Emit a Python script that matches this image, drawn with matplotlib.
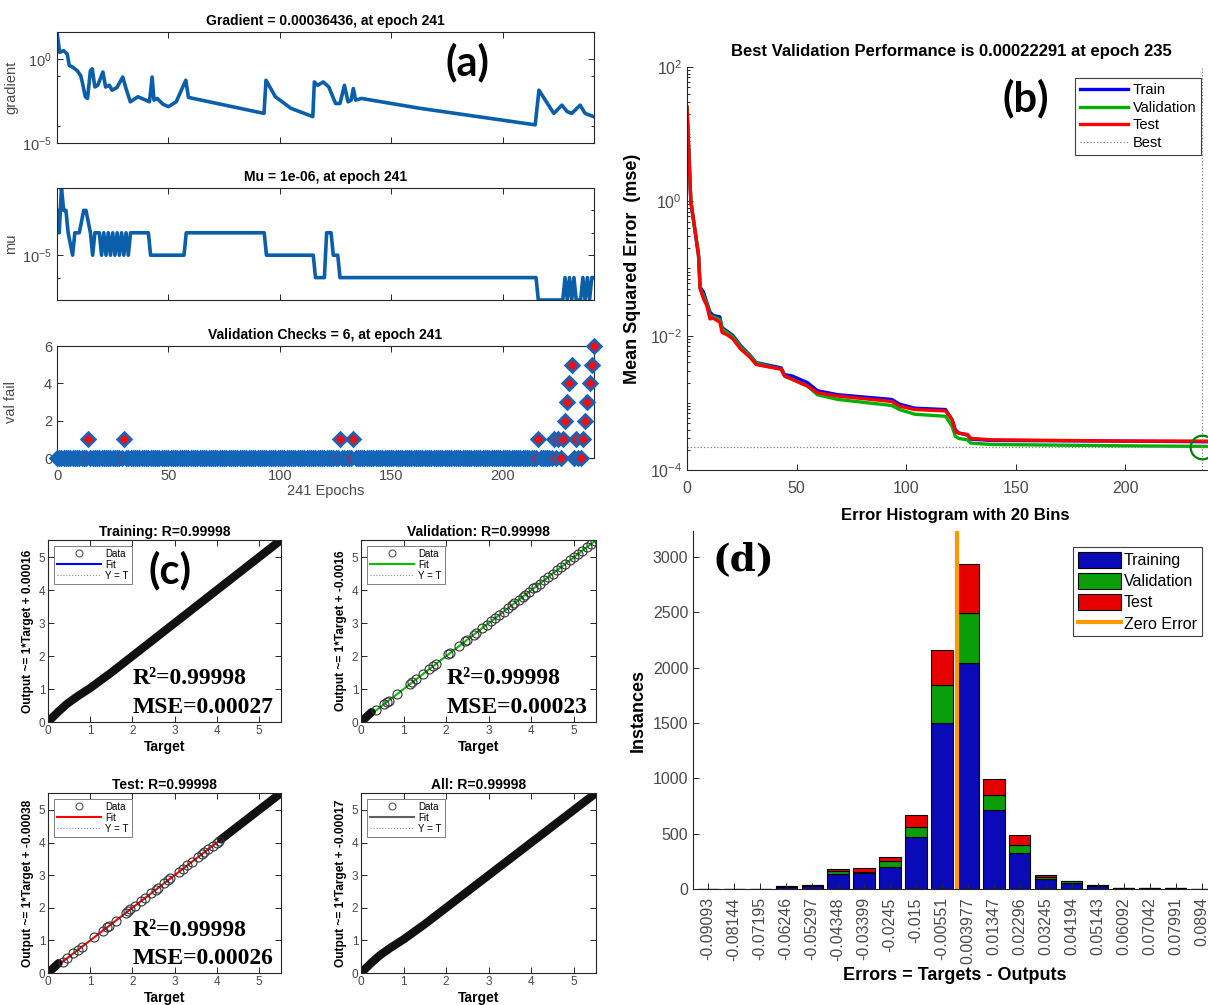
import numpy as np
import matplotlib
matplotlib.use("Agg")
import matplotlib.pyplot as plt
from matplotlib.lines import Line2D
from matplotlib.patches import Patch
from matplotlib.ticker import FixedLocator, NullFormatter

plt.rcParams["font.family"] = ["Liberation Sans", "DejaVu Sans"]
plt.rcParams["mathtext.fontset"] = "custom"
plt.rcParams["mathtext.rm"] = "Liberation Sans"
plt.rcParams["mathtext.it"] = "Liberation Sans:italic"
plt.rcParams["mathtext.bf"] = "Liberation Sans:bold"

W, H = 1208, 1005

# ─── (a) training state ─────────────────────────────────────────────────────
N_EPOCHS = 241

GRAD_EPOCH = [0, 1.2, 3, 4.6, 5.5, 7, 9, 10.6, 11.5, 12.7, 13.7, 15, 15.8, 17, 18.3,
              20.6, 21.8, 23.5, 24.7, 26.9, 29.5, 31.2, 32.9, 36.3, 39.8, 41.5, 42.7,
              43.5, 45, 47.5, 50, 53.5, 57.8, 59, 92.9, 93.8, 98, 105, 114.8, 115.5,
              117, 119.5, 122, 125, 127, 129, 130.6, 132, 133, 134, 136.6, 163, 214.6,
              216.3, 221.5, 223, 226.6, 229, 231, 234.8, 237, 241]
GRAD_LOG = [1.6, 0.39, 0.49, 0.29, -0.39, -0.49, -0.69, -0.98, -1.47, -2.25, -2.35,
            -0.69, -0.59, -1.67, -1.57, -0.78, -1.67, -1.57, -1.86, -1.7, -1.08, -1.86,
            -2.55, -2.25, -2.45, -2.55, -1.08, -2.45, -2.35, -2.69, -2.84, -2.55, -1.27,
            -2.29, -3.24, -1.27, -2.25, -2.94, -3.43, -1.37, -1.57, -1.37, -1.67, -2.65,
            -2.65, -1.57, -2.55, -2.45, -1.76, -2.45, -2.35, -2.94, -3.92, -1.86, -2.94,
            -3.24, -2.75, -3.14, -3.24, -2.75, -3.24, -3.44]

MU_EPOCH = [0, 1, 2, 3, 4, 5, 7, 8, 10, 12, 13, 15, 16, 17, 19, 20, 21, 22, 23, 24,
            25, 26, 27, 28, 29, 30, 31, 32, 33, 41, 42, 57, 58, 93, 94, 115, 116, 120,
            121, 123, 124, 126, 127, 215, 216, 227, 228, 229, 230, 231, 232, 233, 235,
            236, 237, 238, 239, 240, 241]
MU_LOG = [-3, -4, -2, -3, -3, -4, -5, -4, -4, -3, -3, -4, -5, -4, -4, -5, -4, -5, -4,
          -5, -4, -5, -4, -5, -4, -5, -4, -5, -4, -4, -5, -5, -4, -4, -5, -5, -6, -6,
          -4, -4, -5, -5, -6, -6, -7, -7, -6, -7, -6, -7, -6, -7, -7, -6, -7, -6, -7,
          -6, -6]

VALFAIL_NONZERO = {14: 1, 30: 1, 127: 1, 133: 1, 216: 1, 223: 1, 225: 1, 227: 1,
                   228: 2, 229: 3, 230: 4, 231: 5, 233: 1, 236: 1, 237: 2, 238: 3,
                   239: 4, 240: 5, 241: 6}

# ─── (b) performance ────────────────────────────────────────────────────────
PERF_EPOCH = [0, 1.75, 3.5, 5.25, 6, 7.5, 9, 10.5, 12, 15, 16, 19, 21, 24.5, 29, 31.5,
              43, 44.5, 48, 55, 59.5, 69, 93.5, 97, 104, 118, 121, 122.5, 124, 128,
              129.5, 139, 200, 241]
TRAIN_LOG = [1.4, 0, -0.4, -0.8, -1.28, -1.35, -1.5, -1.65, -1.7, -1.72, -1.88, -1.95,
             -2.0, -2.15, -2.3, -2.4, -2.48, -2.58, -2.6, -2.7, -2.82, -2.88, -2.95,
             -3.02, -3.08, -3.1, -3.25, -3.4, -3.45, -3.48, -3.54, -3.56, -3.57, -3.58]
VAL_LOG = [1.4, 0, -0.4, -0.8, -1.3, -1.4, -1.52, -1.7, -1.72, -1.76, -1.9, -1.97,
           -2.02, -2.17, -2.31, -2.41, -2.5, -2.6, -2.65, -2.75, -2.88, -2.95, -3.04,
           -3.1, -3.17, -3.2, -3.35, -3.5, -3.53, -3.55, -3.6, -3.62, -3.64, -3.65]
TEST_LOG = [1.4, 0, -0.4, -0.8, -1.3, -1.45, -1.55, -1.75, -1.74, -1.8, -1.95, -2.0,
            -2.05, -2.2, -2.33, -2.43, -2.5, -2.6, -2.65, -2.75, -2.85, -2.9, -2.98,
            -3.05, -3.1, -3.12, -3.25, -3.43, -3.45, -3.47, -3.53, -3.55, -3.57, -3.57]
BEST_EPOCH = 235
BEST_PERF = 0.00022291

# ─── (c) regression ─────────────────────────────────────────────────────────
REG_TITLES = ["Training: R=0.99998", "Validation: R=0.99998",
              "Test: R=0.99998", "All: R=0.99998"]
REG_YLABELS = ["Output ~= 1*Target + 0.00016", "Output ~= 1*Target + -0.0016",
               "Output ~= 1*Target + -0.00038", "Output ~= 1*Target + -0.00017"]
FIT_INTERCEPT = [0.00016, -0.0016, -0.00038, -0.00017]
FIT_COLORS = ["#0000FF", "#00C000", "#FF0000", "#606060"]
REG_R2 = ["R²=0.99998", "R²=0.99998", "R²=0.99998", None]
REG_MSE = ["MSE=0.00027", "MSE=0.00023", "MSE=0.00026", None]

# dense (band-like) parts of the data clouds: target / output
TRAIN_BAND_T = [0.0, 0.1, 0.25, 0.45, 0.7, 1.0, 1.5, 2.0, 2.5, 3.0, 3.5, 4.0, 4.5, 5.0, 5.52]
TRAIN_BAND_O = [0.0, 0.13, 0.32, 0.55, 0.78, 1.03, 1.5, 2.0, 2.5, 3.0, 3.5, 4.0, 4.5, 5.0, 5.52]
VAL_BAND_T = [0.0, 0.1, 0.25]
VAL_BAND_O = [0.0, 0.12, 0.3]
TEST_BAND_T = [0.0, 0.1, 0.25]
TEST_BAND_O = [0.0, 0.12, 0.3]
TEST_BAND2_T = [4.1, 4.6, 5.0, 5.52]
TEST_BAND2_O = [4.1, 4.6, 5.0, 5.52]
# sparse, individually visible circles (outputs sit on Y = T)
VAL_PTS = [0.35, 0.55, 0.6, 0.65, 0.85, 1.15, 1.2, 1.3, 1.45, 1.6, 1.7, 1.75, 2.05,
           2.1, 2.3, 2.45, 2.5, 2.65, 2.7, 2.85, 2.95, 3.05, 3.15, 3.25, 3.35, 3.45,
           3.55, 3.6, 3.7, 3.8, 3.85, 3.95, 4.05, 4.1, 4.2, 4.3, 4.4, 4.5, 4.6, 4.7,
           4.8, 4.9, 5.0, 5.1, 5.2, 5.3, 5.4, 5.5]
TEST_PTS = [0.35, 0.45, 0.6, 0.7, 0.8, 1.1, 1.3, 1.4, 1.45, 1.6, 1.85, 1.9, 1.95, 2.05,
            2.2, 2.3, 2.45, 2.55, 2.6, 2.75, 2.85, 2.9, 3.1, 3.2, 3.3, 3.4, 3.55, 3.65,
            3.7, 3.8, 3.9, 4.0, 4.05]
REG_MAX = 5.52

# ─── (d) error histogram ────────────────────────────────────────────────────
BIN_LABELS = ["-0.09093", "-0.08144", "-0.07195", "-0.06246", "-0.05297", "-0.04348",
              "-0.03399", "-0.0245", "-0.015", "-0.00551", "0.003977", "0.01347",
              "0.02296", "0.03245", "0.04194", "0.05143", "0.06092", "0.07042",
              "0.07991", "0.0894"]
BIN_CENTERS = [float(s) for s in BIN_LABELS]
HIST_TRAIN = [0, 0, 0, 20, 28, 136, 142, 201, 467, 1502, 2040, 714, 329, 93, 51, 31, 6, 6, 5, 0]
HIST_VAL = [0, 0, 0, 4, 5, 23, 14, 48, 94, 339, 456, 136, 70, 15, 20, 3, 1, 1, 1, 0]
HIST_TEST = [0, 0, 0, 4, 4, 19, 37, 43, 108, 318, 445, 142, 85, 14, 3, 3, 1, 1, 0, 0]

# ─── Styling helpers ────────────────────────────────────────────────────────
AX_COLOR = "#262626"
TICK_COLOR = "#4a4a4a"
LINE_BLUE = "#0B5FAA"


def rect(l, t, r, b):
    """Axes rectangle from pixel edges (left, top, right, bottom)."""
    return [l / W, 1 - b / H, (r - l) / W, (b - t) / H]


def matlab_style(ax, box=True, size=10):
    for name, s in ax.spines.items():
        s.set_color(AX_COLOR)
        s.set_linewidth(0.8)
        if not box and name in ("top", "right"):
            s.set_visible(False)
    ax.tick_params(which="both", direction="in", top=box, right=box,
                   color=AX_COLOR, labelcolor=TICK_COLOR, labelsize=size, width=0.7)
    ax.tick_params(which="major", length=4)
    ax.tick_params(which="minor", length=2.5)


fig = plt.figure(figsize=(W / 100, H / 100), dpi=100)

# ─── (a) ────────────────────────────────────────────────────────────────────
A_LEFT, A_RIGHT = 57, 594
ylab_x = (18 - A_LEFT) / (A_RIGHT - A_LEFT)

ax_g = fig.add_axes(rect(A_LEFT, 32, A_RIGHT, 143))
ax_g.semilogy(GRAD_EPOCH, 10 ** np.array(GRAD_LOG), color=LINE_BLUE, lw=2.6)
ax_g.set_xlim(0, N_EPOCHS)
ax_g.set_ylim(1e-5, 10 ** 1.6)
ax_g.set_yticks([1e-5, 1e0])
ax_g.set_yticklabels([r"$10^{-5}$", r"$10^{0}$"])
ax_g.yaxis.set_minor_locator(FixedLocator([1e-4, 1e-1]))
ax_g.yaxis.set_minor_formatter(NullFormatter())
ax_g.set_xticks([0, 50, 100, 150, 200])
ax_g.set_xticklabels([])
ax_g.set_ylabel("gradient", fontsize=10.5, color=TICK_COLOR)
ax_g.yaxis.set_label_coords(ylab_x, 0.5)
ax_g.set_title("Gradient = 0.00036436, at epoch 241", fontsize=10, fontweight="bold", pad=5)
matlab_style(ax_g, size=10.5)

ax_m = fig.add_axes(rect(A_LEFT, 188, A_RIGHT, 300))
ax_m.semilogy(MU_EPOCH, 10.0 ** np.array(MU_LOG), color=LINE_BLUE, lw=2.6)
ax_m.set_xlim(0, N_EPOCHS)
ax_m.set_ylim(1e-7, 1e-2)
ax_m.set_yticks([1e-5])
ax_m.set_yticklabels([r"$10^{-5}$"])
ax_m.yaxis.set_minor_locator(FixedLocator([1e-6, 1e-4, 1e-3]))
ax_m.yaxis.set_minor_formatter(NullFormatter())
ax_m.set_xticks([0, 50, 100, 150, 200])
ax_m.set_xticklabels([])
ax_m.set_ylabel("mu", fontsize=10.5, color=TICK_COLOR)
ax_m.yaxis.set_label_coords(ylab_x, 0.5)
ax_m.set_title("Mu = 1e-06, at epoch 241", fontsize=10, fontweight="bold", pad=5)
matlab_style(ax_m, size=10.5)

val_epochs = np.arange(N_EPOCHS + 1)
val_fail = np.zeros(N_EPOCHS + 1)
for ep, v in VALFAIL_NONZERO.items():
    val_fail[ep] = v

ax_v = fig.add_axes(rect(A_LEFT, 346, A_RIGHT, 458))
ax_v.plot(val_epochs, val_fail, ls="none", marker="D", ms=7.5,
          mfc="#E8101A", mec="#1466B8", mew=1.8, clip_on=False, zorder=3)
ax_v.set_xlim(0, N_EPOCHS)
ax_v.set_ylim(0, 6)
ax_v.set_yticks([0, 2, 4, 6])
ax_v.set_xticks([0, 50, 100, 150, 200])
ax_v.set_ylabel("val fail", fontsize=10.5, color=TICK_COLOR)
ax_v.yaxis.set_label_coords(ylab_x, 0.5)
ax_v.set_xlabel("241 Epochs", fontsize=10.5, color=TICK_COLOR, labelpad=1)
ax_v.set_title("Validation Checks = 6, at epoch 241", fontsize=10, fontweight="bold", pad=5)
matlab_style(ax_v, size=10.5)
ax_v.tick_params(axis="x", pad=8)

# ─── (b) ────────────────────────────────────────────────────────────────────
ax_b = fig.add_axes(rect(687, 67, 1215, 470))
ax_b.semilogy(PERF_EPOCH, 10 ** np.array(TRAIN_LOG), color="#0000FF", lw=2.4, label="Train")
ax_b.semilogy(PERF_EPOCH, 10 ** np.array(VAL_LOG), color="#00B000", lw=2.4, label="Validation")
ax_b.semilogy(PERF_EPOCH, 10 ** np.array(TEST_LOG), color="#FF0000", lw=2.4, label="Test")
ax_b.axhline(BEST_PERF, color="#808080", ls=":", lw=0.9)
ax_b.axvline(BEST_EPOCH, color="#808080", ls=":", lw=0.9)
ax_b.plot([BEST_EPOCH], [BEST_PERF], "o", ms=17, mfc="none", mec="#008000", mew=1.6,
          clip_on=False, zorder=5)
ax_b.set_xlim(0, N_EPOCHS)
ax_b.set_ylim(1e-4, 1e2)
ax_b.set_yticks([1e-4, 1e-2, 1e0, 1e2])
ax_b.set_yticklabels([r"$10^{-4}$", r"$10^{-2}$", r"$10^{0}$", r"$10^{2}$"])
minors = [s * 10.0 ** d for d in range(-4, 2) for s in range(1, 10)
          if not (s == 1 and d % 2 == 0)]
ax_b.yaxis.set_minor_locator(FixedLocator(minors))
ax_b.yaxis.set_minor_formatter(NullFormatter())
ax_b.set_xticks([0, 50, 100, 150, 200])
ax_b.set_ylabel("Mean Squared Error  (mse)", fontsize=13, fontweight="bold", labelpad=6)
ax_b.set_title("Best Validation Performance is 0.00022291 at epoch 235",
               fontsize=12, fontweight="bold", pad=8)
matlab_style(ax_b, box=False, size=11.5)
ax_b.tick_params(axis="x", pad=8)
leg_b = ax_b.legend(handles=[
    Line2D([], [], color="#0000FF", lw=2.4, label="Train"),
    Line2D([], [], color="#00B000", lw=2.4, label="Validation"),
    Line2D([], [], color="#FF0000", lw=2.4, label="Test"),
    Line2D([], [], color="#808080", lw=0.9, ls=":", label="Best")],
    loc="upper left", bbox_to_anchor=(1075 / W, 1 - 78 / H), bbox_transform=fig.transFigure,
    borderaxespad=0, fontsize=10.5, handlelength=3.3, handletextpad=0.3,
    labelspacing=0.25, borderpad=0.35, fancybox=False, edgecolor="#404040", framealpha=1)
leg_b.get_frame().set_linewidth(0.8)

# ─── (c) ────────────────────────────────────────────────────────────────────
reg_rects = [(48, 540, 281, 722), (361, 540, 596, 722),
             (48, 793, 281, 973), (361, 793, 596, 973)]
bands = [[(TRAIN_BAND_T, TRAIN_BAND_O)],
         [(VAL_BAND_T, VAL_BAND_O)],
         [(TEST_BAND_T, TEST_BAND_O), (TEST_BAND2_T, TEST_BAND2_O)],
         [(TRAIN_BAND_T, TRAIN_BAND_O)]]
points = [[], VAL_PTS, TEST_PTS, []]

for i, r in enumerate(reg_rects):
    ax = fig.add_axes(rect(*r))
    ax.plot([0, REG_MAX], [0, REG_MAX], color="#909090", ls=":", lw=0.8)
    ax.plot([0, REG_MAX], [FIT_INTERCEPT[i], REG_MAX + FIT_INTERCEPT[i]],
            color=FIT_COLORS[i], lw=1.5)
    for bt, bo in bands[i]:
        ax.plot(bt, bo, color="#111111", lw=6, solid_capstyle="round")
    if points[i]:
        ax.plot(points[i], points[i], "o", ms=6.5, mfc="none", mec="#333333", mew=0.8)
    ax.set_xlim(0, REG_MAX)
    ax.set_ylim(0, REG_MAX)
    ax.set_xticks(range(6))
    ax.set_yticks(range(6))
    ax.set_title(REG_TITLES[i], fontsize=10, fontweight="bold", pad=3)
    ax.set_xlabel("Target", fontsize=10, fontweight="bold", labelpad=2)
    ax.set_ylabel(REG_YLABELS[i], fontsize=8.6, fontweight="bold", labelpad=3)
    matlab_style(ax, size=8.5)
    ax.tick_params(pad=2)
    lg = ax.legend(handles=[
        Line2D([], [], marker="o", ls="none", ms=5, mfc="none", mec="#555555", mew=0.8, label="Data"),
        Line2D([], [], color=FIT_COLORS[i], lw=1.5, label="Fit"),
        Line2D([], [], color="#909090", lw=0.8, ls=":", label="Y = T")],
        loc="upper left", fontsize=7, handlelength=4.6, handletextpad=0.4,
        labelspacing=0.1, borderpad=0.3, borderaxespad=0.6, fancybox=False,
        edgecolor="#808080", framealpha=1)
    lg.get_frame().set_linewidth(0.7)
    if REG_R2[i]:
        ax.text(2.0, 1.31, REG_R2[i], family="Liberation Serif", fontweight="bold",
                fontsize=17, va="center", ha="left")
        ax.text(2.0, 0.43, REG_MSE[i], family="Liberation Serif", fontweight="bold",
                fontsize=17, va="center", ha="left")

# ─── (d) ────────────────────────────────────────────────────────────────────
bin_w = BIN_CENTERS[1] - BIN_CENTERS[0]
ax_d = fig.add_axes(rect(693, 531, 1217, 889))
tr = np.array(HIST_TRAIN)
va = np.array(HIST_VAL)
te = np.array(HIST_TEST)
bar_w = 0.81 * bin_w
ax_d.bar(BIN_CENTERS, tr, bar_w, color="#0A0AB8", edgecolor="black", lw=0.8)
ax_d.bar(BIN_CENTERS, va, bar_w, bottom=tr, color="#0A9E0A", edgecolor="black", lw=0.8)
ax_d.bar(BIN_CENTERS, te, bar_w, bottom=tr + va, color="#E60000", edgecolor="black", lw=0.8)
ax_d.axvline(0, color="#FF9900", lw=3, zorder=5)
ax_d.set_xlim(BIN_CENTERS[0] - 0.58 * bin_w, BIN_CENTERS[-1] + 0.58 * bin_w)
ax_d.set_ylim(0, 1.1 * (tr + va + te).max())
ax_d.set_xticks(BIN_CENTERS)
ax_d.set_xticklabels(BIN_LABELS, rotation=90)
ax_d.set_yticks([0, 500, 1000, 1500, 2000, 2500, 3000])
ax_d.set_xlabel("Errors = Targets - Outputs", fontsize=13, fontweight="bold", labelpad=2)
ax_d.set_ylabel("Instances", fontsize=13, fontweight="bold", labelpad=4)
ax_d.set_title("Error Histogram with 20 Bins", fontsize=12, fontweight="bold", pad=8)
matlab_style(ax_d, box=False, size=11.5)
ax_d.tick_params(axis="x", pad=6)
leg_d = ax_d.legend(handles=[
    Patch(facecolor="#0A0AB8", edgecolor="black", lw=0.8, label="Training"),
    Patch(facecolor="#0A9E0A", edgecolor="black", lw=0.8, label="Validation"),
    Patch(facecolor="#E60000", edgecolor="black", lw=0.8, label="Test"),
    Line2D([], [], color="#FF9900", lw=3, label="Zero Error")],
    loc="upper left", bbox_to_anchor=(1073 / W, 1 - 547 / H), bbox_transform=fig.transFigure,
    borderaxespad=0, fontsize=11.5, handlelength=2.7, handleheight=1.15, handletextpad=0.2,
    labelspacing=0.3, borderpad=0.3, fancybox=False, edgecolor="#404040", framealpha=1)
leg_d.get_frame().set_linewidth(0.8)

# ─── Panel labels ───────────────────────────────────────────────────────────
for label, x, y, fam, size in [("(a)", 467, 62, "Lato", 30), ("(b)", 1026, 98, "Lato", 30),
                               ("(c)", 170, 570, "Lato", 30),
                               ("(d)", 743, 560, "DejaVu Serif", 27)]:
    fig.text(x / W, 1 - y / H, label, ha="center", va="center", fontsize=size,
             fontweight="bold", family=fam)

fig.savefig("out.png", dpi=100)
